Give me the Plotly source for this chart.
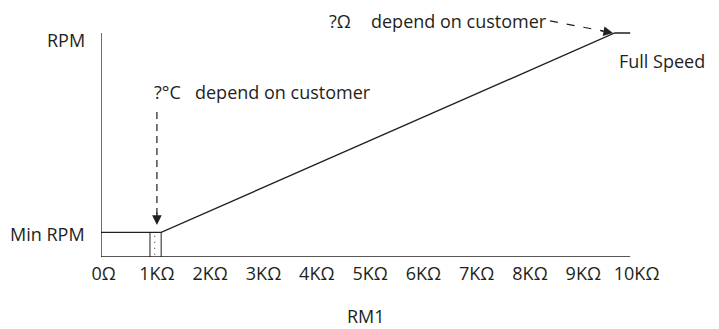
import plotly.graph_objects as go

# ---------------- data (x in kΩ, y as fraction of full RPM) ----------------
x_tick_vals = [0, 1, 2, 3, 4, 5, 6, 7, 8, 9, 10]
x_tick_text = ["0Ω", "1KΩ", "2KΩ", "3KΩ", "4KΩ", "5KΩ", "6KΩ", "7KΩ", "8KΩ", "9KΩ", "10KΩ"]

y_label_text = ["Min RPM", "RPM"]
y_label_vals = [0.103, 0.969]

axis_x = [-0.05, -0.05, 9.88]
axis_y = [1.0, 0.0, 0.0]

curve_x = [-0.05, 1.08, 9.59, 9.88]
curve_y = [0.11, 0.11, 1.0, 1.0]

band_x = [0.87, 0.87, None, 1.08, 1.08]
band_y = [0.0, 0.11, None, 0.0, 0.11]

band_mid_x = [0.96, 0.96]
band_mid_y = [0.01, 0.10]

temp_arrow_x = [1.0, 1.0]
temp_arrow_y = [0.647, 0.19]
temp_tip = (1.0, 0.143)

res_arrow_x = [8.375, 9.37]
res_arrow_y = [1.054, 1.009]
res_tip = (9.557, 1.0)

INK = "#231f20"
FONT = "Open Sans"

fig = go.Figure()

fig.add_trace(go.Scatter(x=axis_x, y=axis_y, mode="lines",
                         line=dict(color=INK, width=1.4), hoverinfo="skip"))
fig.add_trace(go.Scatter(x=curve_x, y=curve_y, mode="lines",
                         line=dict(color=INK, width=1.3), hoverinfo="skip"))
fig.add_trace(go.Scatter(x=band_x, y=band_y, mode="lines",
                         line=dict(color=INK, width=1.0), hoverinfo="skip"))
fig.add_trace(go.Scatter(x=band_mid_x, y=band_mid_y, mode="lines",
                         line=dict(color=INK, width=1.0, dash="1px,5px"), hoverinfo="skip"))
fig.add_trace(go.Scatter(x=temp_arrow_x, y=temp_arrow_y, mode="lines",
                         line=dict(color=INK, width=1.2, dash="7px,5px"), hoverinfo="skip"))
fig.add_trace(go.Scatter(x=res_arrow_x, y=res_arrow_y, mode="lines",
                         line=dict(color=INK, width=1.2, dash="8px,9px"), hoverinfo="skip"))

annotations = []
# arrowheads
annotations.append(dict(x=temp_tip[0], y=temp_tip[1], xref="x", yref="y", text="",
                        showarrow=True, arrowhead=2, arrowsize=1.6, arrowwidth=1.2,
                        arrowcolor=INK, ax=0, ay=-14, standoff=0))
annotations.append(dict(x=res_tip[0], y=res_tip[1], xref="x", yref="y", text="",
                        showarrow=True, arrowhead=2, arrowsize=1.6, arrowwidth=1.2,
                        arrowcolor=INK, ax=-13.8, ay=-2.6, standoff=0))

txt = dict(family=FONT, size=18, color=INK)
annotations += [
    dict(x=0.908, y=0.737, text="?°C", xanchor="left", yanchor="middle", showarrow=False, font=txt),
    dict(x=1.677, y=0.737, text="depend on customer", xanchor="left", yanchor="middle", showarrow=False, font=txt),
    dict(x=4.19, y=1.054, text="?Ω", xanchor="left", yanchor="middle", showarrow=False, font=txt),
    dict(x=4.98, y=1.054, text="depend on customer", xanchor="left", yanchor="middle", showarrow=False, font=txt),
    dict(x=9.63, y=0.875, text="Full Speed", xanchor="left", yanchor="middle", showarrow=False, font=txt),
    dict(x=4.92, xref="x", y=0, yref="paper", yshift=-59, text="RM1",
         xanchor="center", yanchor="middle", showarrow=False, font=txt),
]
for t, v in zip(y_label_text, y_label_vals):
    annotations.append(dict(x=0, xref="paper", xshift=-14, y=v, yref="y", text=t,
                            xanchor="right", yanchor="middle", showarrow=False, font=txt))

fig.update_layout(
    width=711, height=321,
    margin=dict(l=93, r=0, t=0, b=72),
    paper_bgcolor="white", plot_bgcolor="white",
    showlegend=False,
    annotations=annotations,
    xaxis=dict(range=[-0.049, 11.546], tickvals=x_tick_vals, ticktext=x_tick_text,
               showgrid=False, zeroline=False, showline=False, ticks="",
               ticklabelstandoff=4,
               tickfont=dict(family=FONT, size=18, color=INK), fixedrange=True),
    yaxis=dict(range=[0, 1.1116], showticklabels=False, showgrid=False,
               zeroline=False, showline=False, ticks="", fixedrange=True),
)

fig.write_html("out.html")
